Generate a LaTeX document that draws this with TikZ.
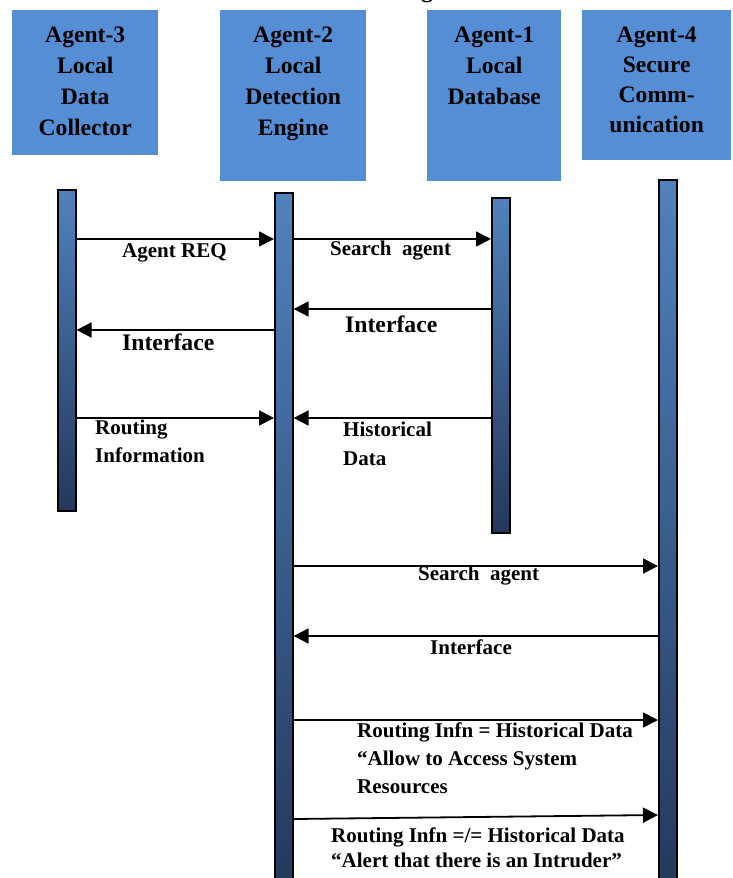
\documentclass[tikz,border=0pt]{standalone}
\usepackage{fontspec}
\setmainfont{Liberation Serif}
\usetikzlibrary{arrows.meta,calc}
\definecolor{boxblue}{RGB}{85,142,213}
\definecolor{bartop}{RGB}{80,130,190}
\definecolor{barbot}{RGB}{36,56,90}
\begin{document}
\begin{tikzpicture}[x=1pt,y=-1pt,
  agentbox/.style={rectangle, fill=boxblue, draw=none, anchor=north west, inner sep=0pt},
  boxtext/.style={anchor=north, align=center, inner sep=0pt, font=\bfseries\fontsize{23.6}{31}\selectfont},
  lifebar/.style={rectangle, draw=black, line width=1.6pt, top color=bartop, bottom color=barbot,
    minimum width=18pt, inner sep=0pt, anchor=north west},
  msg/.style={line width=1.8pt, -{Triangle[length=15pt,width=15pt]}},
  lbl/.style={inner sep=0pt, align=left, font=\bfseries\fontsize{21}{28}\selectfont},
  biglbl/.style={inner sep=0pt, font=\bfseries\fontsize{23.7}{28}\selectfont}
]
\useasboundingbox (0,0) rectangle (733,878);

% title fragment (cut off at the top)
\node[anchor=base, inner sep=0pt, font=\bfseries\fontsize{24}{28}\selectfont] (title) at (427,-2) {g};

% agent boxes
\node[agentbox, minimum width=146pt, minimum height=145pt] (A3) at (12,10) {};
\node[agentbox, minimum width=146pt, minimum height=171pt] (A2) at (220,10) {};
\node[agentbox, minimum width=134pt, minimum height=171pt] (A1) at (427,10) {};
\node[agentbox, minimum width=149pt, minimum height=150pt] (A4) at (582,10) {};

\node[boxtext] (T3) at ($(A3.north)+(0,17)$) {Agent-3\\Local\\Data\\Collector};
\node[boxtext] (T2) at ($(A2.north)+(0,17)$) {Agent-2\\Local\\Detection\\Engine};
\node[boxtext] (T1) at ($(A1.north)+(0,17)$) {Agent-1\\Local\\Database};
\node[boxtext, font=\bfseries\fontsize{23.6}{30}\selectfont] (T4) at ($(A4.north)+(0,17)$) {Agent-4\\Secure\\Comm-\\unication};

% lifelines
\node[lifebar, minimum height=321pt] (L3) at (57,189) {};
\node[lifebar, minimum height=700pt] (L2) at (274,192) {};
\node[lifebar, minimum height=335pt] (L1) at (491,197) {};
\node[lifebar, minimum height=712pt] (L4) at (658,179) {};

% messages
\draw[msg] (L3.east |- 0,239) -- (L2.west |- 0,239);
\draw[msg] (L2.east |- 0,239) -- (L1.west |- 0,239);
\draw[msg] (L1.west |- 0,309) -- (L2.east |- 0,309);
\draw[msg] (L2.west |- 0,330) -- (L3.east |- 0,330);
\draw[msg] (L3.east |- 0,418) -- (L2.west |- 0,418);
\draw[msg] (L1.west |- 0,418) -- (L2.east |- 0,418);
\draw[msg] (L2.east |- 0,566) -- (L4.west |- 0,566);
\draw[msg] (L4.west |- 0,636) -- (L2.east |- 0,636);
\draw[msg] (L2.east |- 0,720) -- (L4.west |- 0,720);
\draw[msg] (L2.east |- 0,819) -- (L4.west |- 0,815);

% labels
\node[lbl, anchor=base west] (m1) at (122,257) {Agent REQ};
\node[lbl, anchor=base west] (m2) at (330,255) {Search~ agent};
\node[biglbl, anchor=base west] (m3) at (345,332) {Interface};
\node[biglbl, anchor=base west] (m4) at (122,350) {Interface};
\node[lbl, anchor=north west] (m5) at (95,420) {Routing\\Information};
\node[lbl, anchor=north west, font=\bfseries\fontsize{21}{29}\selectfont] (m6) at (343,422) {Historical\\Data};
\node[lbl, anchor=base west] (m7) at (418,580) {Search~ agent};
\node[lbl, anchor=base west] (m8) at (430,654) {Interface};
\node[lbl, anchor=north west] (m9) at (357,723) {Routing Infn = Historical Data\\“Allow to Access System\\Resources};
\node[lbl, anchor=north west, font=\bfseries\fontsize{21}{25}\selectfont] (m10) at (331,828) {Routing Infn =/= Historical Data\\“Alert that there is an Intruder”};
\end{tikzpicture}
\end{document}
